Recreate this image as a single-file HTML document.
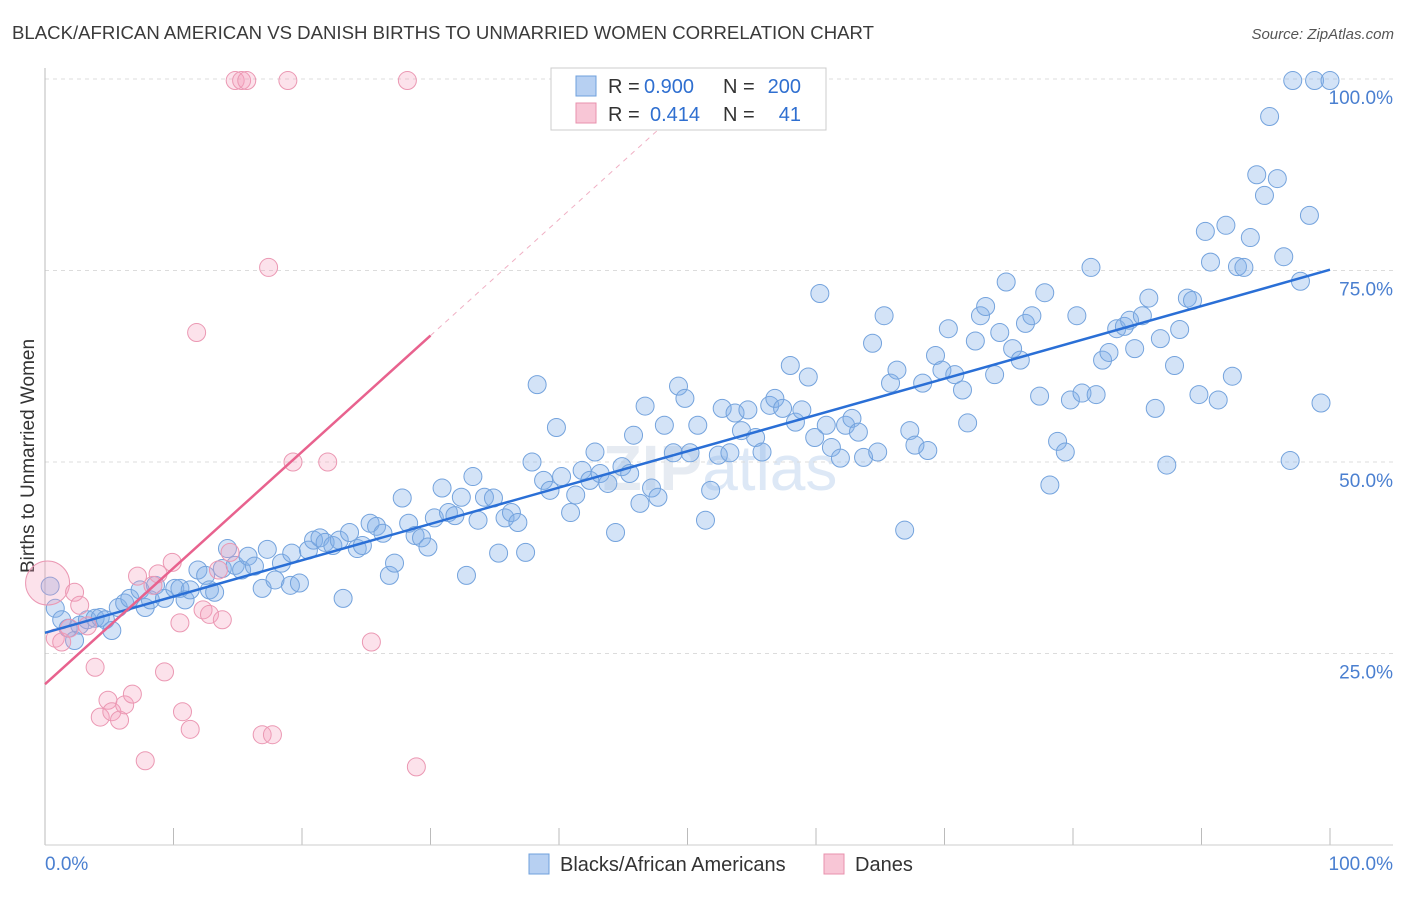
<!DOCTYPE html>
<html><head><meta charset="utf-8"><style>
body{margin:0;background:#fff;font-family:"Liberation Sans",sans-serif}
svg text{font-family:"Liberation Sans",sans-serif}
</style></head><body>
<svg id="chart" width="1406" height="892" xmlns="http://www.w3.org/2000/svg">
<text x="12" y="39" font-size="18.5" fill="#3a3a3a" textLength="862" lengthAdjust="spacingAndGlyphs">BLACK/AFRICAN AMERICAN VS DANISH BIRTHS TO UNMARRIED WOMEN CORRELATION CHART</text>
<text x="1394" y="39" font-size="15" fill="#555" font-style="italic" text-anchor="end">Source: ZipAtlas.com</text>
<text x="720" y="490" font-size="64" fill="#e6ebf2" text-anchor="middle" font-weight="bold">ZIP<tspan fill="#dde8f6" font-weight="normal">atlas</tspan></text>
<g id="grid"></g>
<line x1="45" y1="68" x2="45" y2="845" stroke="#bbb"/>
<line x1="45" y1="845" x2="1393" y2="845" stroke="#ccc"/>
<text transform="translate(34,456) rotate(-90)" font-size="19" fill="#333" text-anchor="middle">Births to Unmarried Women</text>
<text x="45" y="870" font-size="19" fill="#4a7fd0">0.0%</text>
<text x="1393" y="870" font-size="19" fill="#4a7fd0" text-anchor="end">100.0%</text>
<g id="points"></g>
<g id="lines"></g>
<g>
<rect x="551" y="68" width="275" height="62" fill="#fff" stroke="#ccc"/>
<rect x="576" y="76" width="20" height="20" fill="#b7d0f2" stroke="#6fa0dc"/>
<rect x="576" y="103" width="20" height="20" fill="#f8c6d6" stroke="#e891ad"/>
<text x="608" y="93" font-size="20" fill="#333">R =</text>
<text x="644" y="93" font-size="20" fill="#2f6fd0">0.900</text>
<text x="723" y="93" font-size="20" fill="#333">N =</text>
<text x="801" y="93" font-size="20" fill="#2f6fd0" text-anchor="end">200</text>
<text x="608" y="121" font-size="20" fill="#333">R =</text>
<text x="650" y="121" font-size="20" fill="#2f6fd0">0.414</text>
<text x="723" y="121" font-size="20" fill="#333">N =</text>
<text x="801" y="121" font-size="20" fill="#2f6fd0" text-anchor="end">41</text>
</g>
<g>
<rect x="529" y="854" width="20" height="20" fill="#b7d0f2" stroke="#6fa0dc"/>
<text x="560" y="871" font-size="20" fill="#333">Blacks/African Americans</text>
<rect x="824" y="854" width="20" height="20" fill="#f8c6d6" stroke="#e891ad"/>
<text x="855" y="871" font-size="20" fill="#333">Danes</text>
</g>
</svg>
<script>
const yTicks=[25,50,75,100];
const yTickLabels=["25.0%","50.0%","75.0%","100.0%"];
const xTicks=[0,10,20,30,40,50,60,70,80,90,100];
const blueX=[0.4,0.8,1.3,1.8,2.3,2.7,3.3,3.9,4.3,4.7,5.2,5.7,6.2,6.6,7.4,7.8,8.2,8.6,9.3,10.1,10.5,10.9,11.3,11.9,12.5,12.8,13.2,13.8,14.2,14.8,15.3,15.8,16.3,16.9,17.3,17.9,18.4,19.1,19.2,19.8,20.5,20.9,21.4,21.8,22.4,22.9,23.2,23.7,24.3,24.7,25.3,25.8,26.3,26.8,27.2,27.8,28.3,28.8,29.3,29.8,30.3,30.9,31.4,31.9,32.4,32.8,33.3,33.7,34.2,34.9,35.3,35.8,36.3,36.8,37.4,37.9,38.3,38.8,39.3,39.8,40.2,40.9,41.3,41.8,42.4,42.8,43.2,43.8,44.4,44.9,45.5,45.8,46.3,46.7,47.2,47.7,48.2,48.9,49.3,49.8,50.2,50.8,51.4,51.8,52.4,52.7,53.3,53.7,54.2,54.7,55.3,55.8,56.4,56.8,57.4,58.0,58.4,58.9,59.4,59.9,60.3,60.8,61.2,61.9,62.3,62.8,63.3,63.7,64.4,64.8,65.3,65.8,66.3,66.9,67.3,67.7,68.3,68.7,69.3,69.8,70.3,70.8,71.4,71.8,72.4,72.8,73.2,73.9,74.3,74.8,75.3,75.9,76.3,76.8,77.4,77.8,78.2,78.8,79.4,79.8,80.3,80.7,81.4,81.8,82.3,82.8,83.4,84.0,84.4,84.8,85.4,85.9,86.4,86.8,87.3,87.9,88.3,88.9,89.3,89.8,90.3,90.7,91.3,91.9,92.4,92.8,93.3,93.8,94.3,94.9,95.3,95.9,96.4,96.9,97.1,97.7,98.4,98.8,99.3,100];
const blueY=[33.8,30.9,29.4,28.3,26.7,28.7,29.4,29.6,29.7,29.4,28.0,31.0,31.6,32.2,33.3,31.0,32.0,33.9,32.2,33.5,33.5,32.0,33.3,35.9,35.2,33.3,33.0,36.1,38.7,36.5,35.9,37.7,36.4,33.5,38.6,34.6,36.8,33.9,38.1,34.2,38.5,39.8,40.1,39.5,39.1,39.8,32.2,40.8,38.7,39.1,42.0,41.6,40.7,35.2,36.8,45.3,42.0,40.4,40.1,38.9,42.7,46.6,43.4,43.0,45.4,35.2,48.1,42.4,45.4,45.3,38.1,42.7,43.4,42.1,38.2,50.0,60.1,47.6,46.3,54.5,48.1,43.4,45.7,48.9,47.6,51.3,48.5,47.2,40.8,49.4,48.5,53.5,44.6,57.3,46.6,45.4,54.8,51.2,59.9,58.3,51.2,54.8,42.4,46.3,50.9,57.0,51.2,56.4,54.1,56.8,53.2,51.3,57.4,58.3,57.0,62.6,55.2,56.8,61.1,53.2,72.0,54.8,51.9,50.5,54.8,55.7,53.9,50.6,65.5,51.3,69.1,60.3,62.0,41.1,54.1,52.2,60.3,51.5,63.9,62.0,67.4,61.4,59.4,55.1,65.8,69.1,70.3,61.4,66.9,73.5,64.8,63.3,68.1,69.1,58.6,72.1,47.0,52.7,51.3,58.1,69.1,59.0,75.4,58.8,63.3,64.3,67.4,67.7,68.5,64.8,69.1,71.4,57.0,66.1,49.6,62.6,67.3,71.4,71.1,58.8,80.1,76.1,58.1,80.9,61.2,75.5,75.4,79.3,87.5,84.8,95.1,87.0,76.8,50.2,99.8,73.6,82.2,99.8,57.7,99.8];
const pinkX=[0.2,0.8,1.3,1.9,2.3,2.7,3.3,3.9,4.3,4.9,5.2,5.8,6.2,6.8,7.2,7.8,8.4,8.8,9.3,9.9,10.5,10.7,11.3,11.8,12.3,12.8,13.5,13.8,14.4,14.8,15.3,15.7,16.9,17.4,17.7,18.9,19.3,22.0,25.4,28.2,28.9];
const pinkY=[34.2,27.0,26.5,28.3,33.0,31.3,28.6,23.2,16.7,18.9,17.4,16.3,18.3,19.7,35.1,11.0,33.9,35.4,22.6,36.9,29.0,17.4,15.1,66.9,30.7,30.1,35.9,29.4,38.2,99.8,99.8,99.8,14.4,75.4,14.4,99.8,50.0,50.0,26.5,99.8,10.2];
const blueTrend=[27.7,75.1];
const pinkTrend=[21.0,66.5];

const NS="http://www.w3.org/2000/svg";
const X0=45,X1=1330,Y0=845,Y100=79;
function sx(v){return X0+(X1-X0)*v/100;}
function sy(v){return Y0-(Y0-Y100)*v/100;}
function mk(t,a,p){const e=document.createElementNS(NS,t);for(const k in a)e.setAttribute(k,a[k]);p.appendChild(e);return e;}
const grid=document.getElementById('grid');
yTicks.forEach((t,i)=>{
  const l=mk('line',{x1:45,x2:1393,y1:sy(t),y2:sy(t),stroke:'#dcdcdc','stroke-dasharray':'4,4'},grid);
  
  
  const tx=mk('text',{x:1393,y:sy(t)+25,'font-size':19,fill:'#4a7fd0','text-anchor':'end'},grid);
  tx.textContent=yTickLabels[i];
  
  
});
xTicks.forEach(t=>{
  const l=mk('line',{x1:sx(t),x2:sx(t),y1:828,y2:845,stroke:'#bbb'},grid);
  
  
});
const pts=document.getElementById('points');
blueX.forEach((x,i)=>{
  const c=mk('circle',{cx:sx(x),cy:sy(blueY[i]),r:9,fill:'rgba(130,175,232,0.35)',stroke:'#74a3dd','stroke-width':1},pts);
  
  
});
pinkX.forEach((x,i)=>{
  const c=mk('circle',{cx:sx(x),cy:sy(pinkY[i]),r:i===0?22:9,fill:'rgba(244,160,188,0.3)',stroke:'#eb98b3','stroke-width':1},pts);
  
  
});
const lines=document.getElementById('lines');
const bl=mk('line',{x1:sx(0),y1:sy(blueTrend[0]),x2:sx(100),y2:sy(blueTrend[1]),stroke:'#2a6fd6','stroke-width':2.5},lines);


const slope=(pinkTrend[1]-pinkTrend[0])/30;
const xEnd=(100-pinkTrend[0])/slope;
const pd=mk('line',{x1:sx(30),y1:sy(pinkTrend[1]),x2:sx(xEnd),y2:sy(100),stroke:'#f0b0c4','stroke-width':1,'stroke-dasharray':'5,5'},lines);


const pl=mk('line',{x1:sx(0),y1:sy(pinkTrend[0]),x2:sx(30),y2:sy(pinkTrend[1]),stroke:'#e8628e','stroke-width':2.5},lines);


</script>
</body></html>
